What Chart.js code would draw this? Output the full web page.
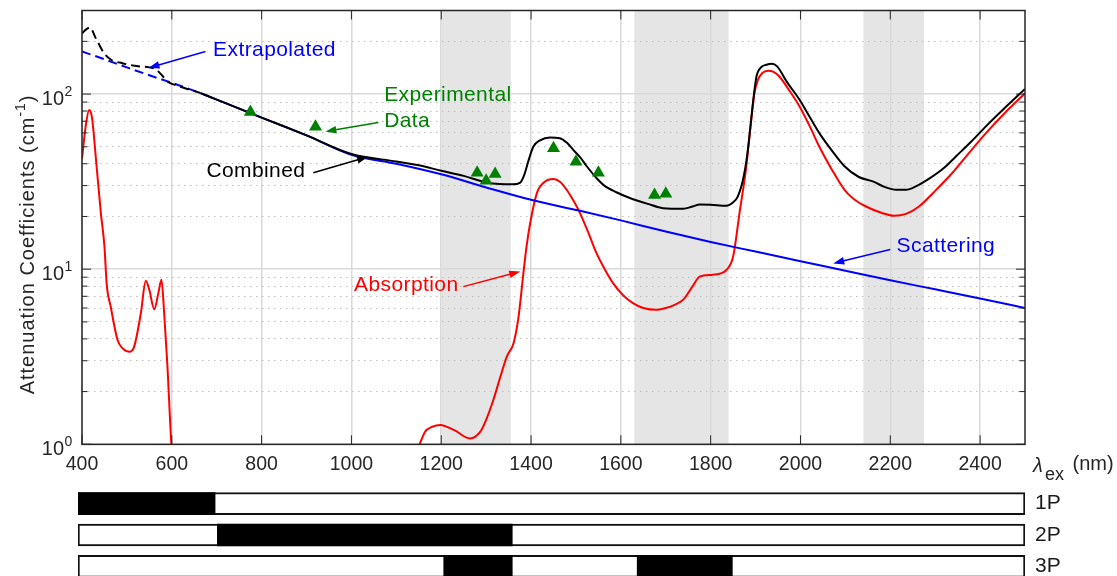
<!DOCTYPE html>
<html>
<head>
<meta charset="utf-8">
<script src="https://cdn.jsdelivr.net/npm/chart.js@4.4.1/dist/chart.umd.min.js"></script>
<style>
  html, body { margin: 0; padding: 0; background: #fff; overflow: hidden; }
  #wrap { position: relative; width: 1117px; height: 576px; }
  #main { position: absolute; left: 0; top: 0; }
  #modes { position: absolute; left: 0; top: 488px; }
</style>
</head>
<body>
<div id="wrap">
  <canvas id="main" width="1117" height="576"></canvas>
  <canvas id="modes" width="1117" height="94"></canvas>
</div>
<script>
(() => {
  "use strict";

  // Axes
  const xMin = 400, xMax = 2500;
  const yMin = 1, yMax = 300;
  const xTicks = [400, 600, 800, 1000, 1200, 1400, 1600, 1800, 2000, 2200, 2400];
  const yMajor = [1, 10, 100];
  const yMinor = [2, 3, 4, 5, 6, 7, 8, 9, 20, 30, 40, 50, 60, 70, 80, 90, 200];

  // Absorption (red), nm / cm^-1, null = below the axis
  const absWl = [400, 408, 416, 422, 432, 442, 450, 455, 464, 479, 490, 505, 516, 531, 542, 550, 561, 570, 577, 583, 590, 599, 606,
    900,
    1148, 1152, 1164, 1180, 1198, 1230, 1264, 1287, 1300, 1316, 1330, 1346, 1361, 1372, 1383, 1390, 1398, 1413, 1430, 1450,
    1465, 1479, 1495, 1509, 1530, 1546, 1565, 1583, 1605, 1627, 1650, 1679, 1700, 1716, 1739, 1760, 1776, 1805, 1835, 1850,
    1864, 1879, 1890, 1897, 1905, 1915, 1928, 1940, 1953, 1975, 1998, 2020, 2042, 2070, 2098, 2120, 2146, 2180, 2209, 2235,
    2264, 2300, 2338, 2375, 2413, 2455, 2500];
  const absVal = [42.6, 65, 81, 74, 40, 20.9, 13.5, 8.2, 6.1, 3.95, 3.54, 3.38, 3.6, 5.6, 8.6, 7.6, 5.9, 7.3, 8.7, 5.6, 2.87, 1.0, 0.6,
    null,
    0.93, 1.0, 1.18, 1.26, 1.29, 1.2, 1.08, 1.18, 1.38, 1.79, 2.35, 3.17, 3.78, 5.3, 9.5, 13.5, 18.3, 27.2, 31.5, 32.7,
    31.5, 28.5, 24.5, 20.9, 15.6, 12.3, 9.9, 8.3, 7.1, 6.4, 6.0, 5.86, 6.0, 6.2, 6.7, 8.0, 9.1, 9.3, 9.9, 11.8,
    20.7, 38, 70, 100, 120, 132, 136, 134, 126, 105, 85, 66, 50, 37, 28.4, 25, 22.8, 21, 20.2, 20.7,
    22.8, 28, 35.4, 46, 59.8, 78, 101];

  // Scattering (blue)
  const scatExtrapWl = [400, 450, 500, 550, 600, 664];
  const scatExtrapVal = [175, 158, 142, 128, 116, 101.3];
  const scatWl = [664, 700, 800, 900, 1000, 1100, 1200, 1300, 1400, 1500, 1600, 1700, 1800, 1900, 2000, 2100, 2200, 2300, 2400, 2500];
  const scatVal = [101.3, 93, 73.4, 58.1, 45, 40, 34.8, 29.3, 24.9, 21.8, 19.0, 16.4, 14.3, 12.6, 11.1, 9.8, 8.64, 7.67, 6.8, 6.0];

  // Combined (black)
  const combExtrapWl = [400, 410, 418, 430, 450, 465, 490, 525, 550, 565, 578, 590, 610, 640, 664];
  const combExtrapVal = [222, 235, 240, 210, 170, 157, 150, 144, 142, 138, 128, 118, 112, 106, 101.3];
  const combWl = [664, 700, 800, 900, 1000, 1100, 1150, 1200, 1250, 1300, 1330, 1360, 1375, 1385, 1395, 1405, 1420, 1442, 1464,
    1480, 1494, 1510, 1524, 1545, 1561, 1590, 1620, 1660, 1694, 1739, 1760, 1776, 1800, 1835, 1850, 1860, 1872, 1880, 1887,
    1895, 1902, 1912, 1924, 1936, 1948, 1970, 1998, 2020, 2042, 2070, 2098, 2130, 2161, 2190, 2213, 2235, 2257, 2290, 2320,
    2346, 2380, 2420, 2460, 2500];
  const combVal = [101.3, 93, 73.4, 58.1, 45.5, 41.2, 39.2, 36.5, 34.1, 31.3, 30.6, 30.5, 31.1, 34.6, 42.2, 50, 54.4, 56.5, 56,
    52.7, 48, 43.3, 38.7, 33.3, 30.3, 27.5, 25.5, 23.6, 22.3, 22.1, 22.8, 23.4, 23.3, 23.0, 24.1, 25.9, 32.4, 42.2, 59.8,
    92.7, 126, 142, 147, 149, 144, 117, 92.8, 74.4, 59.8, 47.5, 38.7, 33.6, 31.7, 29.3, 28.4, 28.4, 29.7, 33.3, 37.9,
    44.0, 53.4, 68.2, 85.7, 107];

  // Experimental data (green triangles)
  const expWl = [775, 920, 1280, 1300, 1320, 1450, 1500, 1550, 1675, 1700];
  const expVal = [79, 65, 35.5, 32, 35, 49, 41, 35.5, 26.5, 27];

  // Shaded windows
  const shadeBands = [[1200, 1355], [1630, 1840], [2140, 2275]];

  // Excitation windows per mode
  const modes = ["1P", "2P", "3P"];
  const modeWindows = [[[400, 704]], [[709, 1363]], [[1211, 1363], [1640, 1851]]];

  // Labels with arrows: text anchor, arrow tail, arrow head (nm, cm^-1)
  const notes = [
    { lines: ["Extrapolated"], color: "#0000ff", text: [692, 179], tail: [675, 175], head: [548, 141] },
    { lines: ["Experimental", "Data"], color: "#008000", text: [1073, 99], tail: [1060, 68.8], head: [942, 61.1] },
    { lines: ["Combined"], color: "#000000", text: [677, 36.1], tail: [915, 35.5], head: [1037, 43.8] },
    { lines: ["Absorption"], color: "#ff0000", text: [1006, 8.06], tail: [1249, 7.95], head: [1376, 9.69] },
    { lines: ["Scattering"], color: "#0000ff", text: [2214, 13.5], tail: [2200, 12.97], head: [2073, 10.79] }
  ];

  const FONT = '"Liberation Sans", Arial, sans-serif';
  const axisColor = "#262626";
  Chart.defaults.font.family = FONT;

  const pts = (xs, ys) => xs.map((x, i) => ({ x, y: ys[i] }));

  const lineSet = (data, color, dash) => ({
    data,
    borderColor: color,
    backgroundColor: color,
    borderWidth: 2,
    borderDash: dash || [],
    pointRadius: 0,
    cubicInterpolationMode: "monotone",
    spanGaps: false,
    clip: 0,
    xAxisID: "x",
    yAxisID: "y"
  });

  // Gray bands under the grid
  const bandsPlugin = {
    id: "bands",
    beforeDraw(chart) {
      const { ctx, chartArea: a, scales: { x } } = chart;
      ctx.save();
      ctx.fillStyle = "#e5e5e5";
      shadeBands.forEach(([b0, b1]) => {
        const p0 = x.getPixelForValue(b0), p1 = x.getPixelForValue(b1);
        ctx.fillRect(p0, a.top, p1 - p0, a.bottom - a.top);
      });
      ctx.restore();
    }
  };

  // Box, inner ticks, y labels, axis titles
  const framePlugin = {
    id: "frame",
    afterDatasetsDraw(chart) {
      const { ctx, chartArea: a, scales: { x, y, yMinor: ym } } = chart;
      ctx.save();
      ctx.strokeStyle = axisColor;
      ctx.lineWidth = 1;
      ctx.beginPath();
      x.ticks.forEach(t => {
        const px = x.getPixelForValue(t.value);
        ctx.moveTo(px, a.bottom); ctx.lineTo(px, a.bottom - 9);
        ctx.moveTo(px, a.top); ctx.lineTo(px, a.top + 9);
      });
      const yTick = (s, len) => s.ticks.forEach(t => {
        const py = s.getPixelForValue(t.value);
        ctx.moveTo(a.left, py); ctx.lineTo(a.left + len, py);
        ctx.moveTo(a.right, py); ctx.lineTo(a.right - len, py);
      });
      yTick(y, 9);
      yTick(ym, 5.5);
      ctx.stroke();

      ctx.lineWidth = 1.5;
      ctx.strokeRect(a.left, a.top, a.right - a.left, a.bottom - a.top);

      // 10^n labels
      ctx.fillStyle = axisColor;
      ctx.textBaseline = "alphabetic";
      y.ticks.forEach(t => {
        const py = y.getPixelForValue(t.value);
        const exp = String(Math.round(Math.log10(t.value)));
        ctx.font = `20px ${FONT}`;
        ctx.textAlign = "right";
        ctx.fillText("10", a.left - 18, py + 10.5);
        ctx.font = `14px ${FONT}`;
        ctx.textAlign = "left";
        ctx.fillText(exp, a.left - 17.5, py + 1.5);
      });

      // y title
      ctx.save();
      ctx.translate(33.5, (a.top + a.bottom) / 2 + 17);
      ctx.rotate(-Math.PI / 2);
      ctx.letterSpacing = "1px";
      ctx.font = `20px ${FONT}`;
      const t1 = "Attenuation Coefficients (cm", t3 = ")";
      const w1 = ctx.measureText(t1).width, w3 = ctx.measureText(t3).width;
      ctx.font = `14px ${FONT}`;
      const w2 = ctx.measureText("-1").width;
      let sx = -(w1 + w2 + w3) / 2;
      ctx.font = `20px ${FONT}`;
      ctx.textAlign = "left";
      ctx.fillText(t1, sx, 0); sx += w1;
      ctx.font = `14px ${FONT}`;
      ctx.fillText("-1", sx, -9); sx += w2;
      ctx.font = `20px ${FONT}`;
      ctx.fillText(t3, sx, 0);
      ctx.restore();

      // x title at the right end
      ctx.textAlign = "left";
      ctx.font = `italic 20px ${FONT}`;
      ctx.fillText("λ", a.right + 8, a.bottom + 28);
      ctx.font = `18px ${FONT}`;
      ctx.fillText("ex", a.right + 20, a.bottom + 36);
      ctx.font = `20px ${FONT}`;
      ctx.fillText("(nm)", a.right + 47.5, a.bottom + 25.5);
      ctx.restore();
    }
  };

  // Text labels with arrows
  const notesPlugin = {
    id: "notes",
    afterDatasetsDraw(chart) {
      const { ctx, scales: { x, y } } = chart;
      ctx.save();
      notes.forEach(n => {
        const tx = x.getPixelForValue(n.text[0]), ty = y.getPixelForValue(n.text[1]);
        ctx.fillStyle = n.color;
        ctx.strokeStyle = n.color;
        ctx.font = `21px ${FONT}`;
        ctx.letterSpacing = "0.4px";
        ctx.textAlign = "left";
        ctx.textBaseline = "middle";
        n.lines.forEach((s, i) => ctx.fillText(s, tx, ty + i * 26));

        const x0 = x.getPixelForValue(n.tail[0]), y0 = y.getPixelForValue(n.tail[1]);
        const x1 = x.getPixelForValue(n.head[0]), y1 = y.getPixelForValue(n.head[1]);
        const ang = Math.atan2(y1 - y0, x1 - x0);
        const hl = 11, hw = 3.8;
        ctx.lineWidth = 1.5;
        ctx.beginPath();
        ctx.moveTo(x0, y0);
        ctx.lineTo(x1 - Math.cos(ang) * hl * 0.8, y1 - Math.sin(ang) * hl * 0.8);
        ctx.stroke();
        ctx.beginPath();
        ctx.moveTo(x1, y1);
        ctx.lineTo(x1 - Math.cos(ang) * hl - Math.sin(ang) * hw, y1 - Math.sin(ang) * hl + Math.cos(ang) * hw);
        ctx.lineTo(x1 - Math.cos(ang) * hl + Math.sin(ang) * hw, y1 - Math.sin(ang) * hl - Math.cos(ang) * hw);
        ctx.closePath();
        ctx.fill();
      });
      ctx.restore();
    }
  };

  new Chart(document.getElementById("main"), {
    type: "line",
    data: {
      datasets: [
        {
          data: pts(expWl, expVal),
          showLine: false,
          pointStyle: "triangle",
          pointRadius: 7.5,
          pointBorderWidth: 0,
          pointBackgroundColor: "#008000",
          borderColor: "#008000",
          clip: 0,
          xAxisID: "x",
          yAxisID: "y"
        },
        lineSet(pts(combWl, combVal), "#000000"),
        lineSet(pts(combExtrapWl, combExtrapVal), "#000000", [9, 5]),
        lineSet(pts(scatWl, scatVal), "#0000ff"),
        lineSet(pts(scatExtrapWl, scatExtrapVal), "#0000ff", [9, 5]),
        lineSet(pts(absWl, absVal), "#ff0000")
      ]
    },
    options: {
      responsive: false,
      animation: false,
      events: [],
      layout: { padding: { left: 82, right: 92, top: 10.5, bottom: 91.7 } },
      plugins: { legend: { display: false }, tooltip: { enabled: false } },
      scales: {
        x: {
          type: "linear",
          min: xMin,
          max: xMax,
          afterBuildTicks: s => { s.ticks = xTicks.map(v => ({ value: v })); },
          afterFit: s => { s.height = 40; },
          grid: { color: "#d9d9d9", lineWidth: 1.5, drawTicks: false },
          border: { display: false },
          ticks: { font: { size: 19.5 }, color: axisColor, padding: 9, maxRotation: 0, autoSkip: false, callback: v => String(v) }
        },
        y: {
          type: "logarithmic",
          min: yMin,
          max: yMax,
          afterBuildTicks: s => { s.ticks = yMajor.map(v => ({ value: v })); },
          afterFit: s => { s.width = 0; },
          grid: { color: "#d9d9d9", lineWidth: 1.5, drawTicks: false },
          border: { display: false },
          ticks: { display: false }
        },
        yMinor: {
          type: "logarithmic",
          position: "left",
          min: yMin,
          max: yMax,
          afterBuildTicks: s => { s.ticks = yMinor.map(v => ({ value: v })); },
          afterFit: s => { s.width = 0; },
          grid: { color: "#bdbdbd", lineWidth: 1, drawTicks: false },
          border: { display: false, dash: [1.5, 4.5] },
          ticks: { display: false }
        }
      }
    },
    plugins: [bandsPlugin, framePlugin, notesPlugin]
  });

  // Excitation mode bars
  const nWin = Math.max(...modeWindows.map(w => w.length));
  const winSets = [];
  for (let k = 0; k < nWin; k++) {
    winSets.push({
      data: modeWindows.map(w => w[k] || null),
      backgroundColor: "#000000",
      borderWidth: 0
    });
  }

  new Chart(document.getElementById("modes"), {
    type: "bar",
    data: {
      labels: modes,
      datasets: [
        ...winSets,
        {
          data: modes.map(() => [xMin, xMax]),
          backgroundColor: "#ffffff",
          borderColor: "#111111",
          borderWidth: 2
        }
      ]
    },
    options: {
      indexAxis: "y",
      responsive: false,
      animation: false,
      events: [],
      layout: { padding: { left: 78, right: 0, top: 0, bottom: 0 } },
      datasets: { bar: { grouped: false, barThickness: 22, borderSkipped: false } },
      plugins: { legend: { display: false }, tooltip: { enabled: false } },
      scales: {
        x: { type: "linear", min: xMin, max: xMax, display: false },
        y: {
          position: "right",
          afterFit: s => { s.width = 92; s.paddingTop = 0; s.paddingBottom = 0; },
          grid: { display: false, drawTicks: false },
          border: { display: false },
          ticks: { font: { size: 21 }, color: "#1a1a1a", padding: 10 }
        }
      }
    }
  });
})();
</script>
</body>
</html>
